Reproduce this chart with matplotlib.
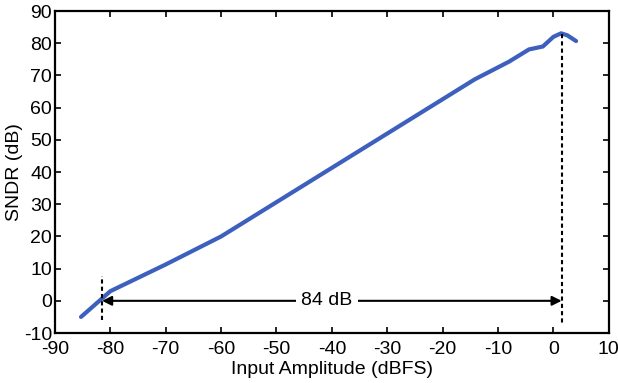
import matplotlib.pyplot as plt

plt.rcParams['font.family'] = ['Liberation Sans', 'DejaVu Sans']
plt.rcParams['axes.unicode_minus'] = False

# SNDR vs input amplitude
amplitude = [-85.3, -80.0, -70.0, -60.0, -14.2, -8.0, -4.4, -1.9, 0.0, 1.4, 2.5, 4.1]
sndr = [-5.0, 3.0, 11.3, 20.0, 68.8, 74.3, 78.1, 79.0, 82.0, 83.1, 82.5, 80.7]

# markers for dynamic range
dr_low, dr_high = -81.5, 1.5
dr_text = '84 dB'

fig = plt.figure(figsize=(6.18, 3.83), dpi=100)
ax = fig.add_axes([0.0890, 0.1305, 0.896, 0.8405])

ax.plot(amplitude, sndr, color='#3d5fbd', linewidth=3.0, solid_capstyle='round')

# vertical dashed markers
ax.plot([dr_low, dr_low], [-6.0, 7.7], color='black', linestyle=(0, (2, 1.5)), linewidth=1.5)
ax.plot([dr_high, dr_high], [83.0, -7.2], color='black', linestyle=(0, (2, 1.5)), linewidth=1.5)

# double arrow with label
ax.annotate('', xy=(dr_low, 0), xytext=(dr_high, 0),
            arrowprops=dict(arrowstyle='<|-|>', color='black', lw=1.5,
                            mutation_scale=14, shrinkA=0, shrinkB=0))
ax.text(-40.9, 0, dr_text, ha='center', va='center', fontsize=14,
        bbox=dict(facecolor='white', edgecolor='none', pad=4))

ax.set_xlim(-90, 10)
ax.set_ylim(-10, 90)
ax.set_xticks(range(-90, 11, 10))
ax.set_yticks(range(-10, 91, 10))
ax.tick_params(direction='in', top=True, right=True, length=4, width=1.2,
               labelsize=14)
ax.tick_params(axis='x', pad=6)
ax.tick_params(axis='y', pad=2)
for s in ax.spines.values():
    s.set_linewidth(1.6)

ax.set_xlabel('Input Amplitude (dBFS)', fontsize=14, labelpad=2)
ax.set_ylabel('SNDR (dB)', fontsize=14, labelpad=1)

fig.savefig('out.png', dpi=100)
